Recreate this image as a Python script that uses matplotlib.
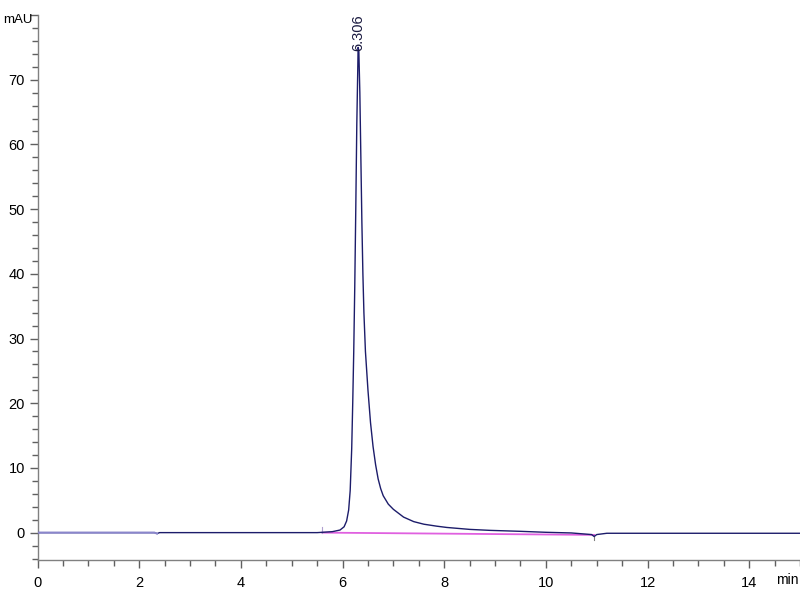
import matplotlib
matplotlib.use("Agg")
import matplotlib.pyplot as plt
from matplotlib.ticker import MultipleLocator, FuncFormatter

plt.rcParams['font.family'] = ['Liberation Sans', 'DejaVu Sans']

# Chromatogram signal (time in min, signal in mAU)
time = [0.0, 1.0, 2.0, 2.30, 2.35, 2.40, 3.0, 4.0, 5.0, 5.5, 5.6, 5.8, 5.95,
        6.03, 6.08, 6.12, 6.15, 6.18, 6.20, 6.22, 6.24, 6.26, 6.28, 6.30,
        6.306, 6.32, 6.34, 6.36, 6.38, 6.40, 6.42, 6.45, 6.50, 6.55, 6.60,
        6.65, 6.70, 6.75, 6.80, 6.90, 7.00, 7.10, 7.20, 7.40, 7.60, 7.85,
        8.05, 8.5, 8.9, 9.5, 10.0, 10.5, 10.9, 10.95, 11.0, 11.2, 12.0,
        13.0, 15.0]
signal = [0.0, 0.0, 0.0, 0.0, -0.15, 0.0, 0.0, 0.0, 0.0, 0.0, 0.05, 0.15, 0.4,
          0.9, 1.8, 3.5, 6.5, 13.0, 20.0, 28.0, 38.0, 50.0, 63.0, 72.0,
          75.0, 74.5, 68.0, 58.0, 48.0, 40.0, 34.0, 28.0, 22.0, 17.0, 13.3,
          10.5, 8.3, 6.8, 5.7, 4.4, 3.6, 3.0, 2.4, 1.7, 1.3, 1.0,
          0.8, 0.5, 0.35, 0.2, 0.05, -0.05, -0.3, -0.6, -0.3, -0.1, -0.1,
          -0.1, -0.1]

# Integration baseline
base_t = [5.6, 10.95]
base_v = [0.0, -0.35]

peak_time = 6.306
peak_height = 75.0
peak_label = "6.306"

fig = plt.figure(figsize=(8, 6), dpi=100)
ax = fig.add_axes([0.047, 0.067, 0.953, 0.908])

ax.plot(time, signal, color='#1c1c6a', lw=1.0, zorder=3)
# lighter early part of trace
early = [i for i, t in enumerate(time) if t <= 2.35]
ax.plot([time[i] for i in early], [signal[i] for i in early],
        color='#8a86cc', lw=1.4, zorder=4)
ax.plot(base_t, base_v, color='#e060e0', lw=1.3, zorder=2)

# integration event marks
ax.plot([5.6, 5.6], [0.0, 0.8], color='#b0a0d0', lw=0.8)
ax.plot([10.95, 10.95], [-0.5, -1.2], color='#808080', lw=0.8)

ax.text(peak_time, peak_height - 0.5, peak_label, rotation=90,
        ha='center', va='bottom', fontsize=10.5, color='#1a1a40')

ax.set_xlim(0, 15)
ax.set_ylim(-4.2, 80)
ax.xaxis.set_major_locator(MultipleLocator(2))
ax.xaxis.set_minor_locator(MultipleLocator(0.5))
ax.yaxis.set_major_locator(MultipleLocator(10))
ax.yaxis.set_minor_locator(MultipleLocator(2))
ax.yaxis.set_major_formatter(FuncFormatter(lambda v, p: '' if v >= 79.5 else f'{v:.0f}'))

for s in ['top', 'right']:
    ax.spines[s].set_visible(False)
for s in ['left', 'bottom']:
    ax.spines[s].set_color('#808080')
    ax.spines[s].set_linewidth(1.0)

ax.tick_params(axis='both', which='major', length=6, color='#606060',
               labelsize=10.5, labelcolor='black', width=1.0)
ax.tick_params(axis='both', which='minor', length=4, color='#606060', width=1.0)
ax.tick_params(axis='x', pad=6)
ax.tick_params(axis='y', pad=3)

fig.text(3 / 800, 1 - 20 / 600, 'mAU', ha='left', va='center', fontsize=9.5)
fig.text(799 / 800, 1 - 580 / 600, 'min', ha='right', va='center', fontsize=10)

fig.savefig('out.png', dpi=100)
